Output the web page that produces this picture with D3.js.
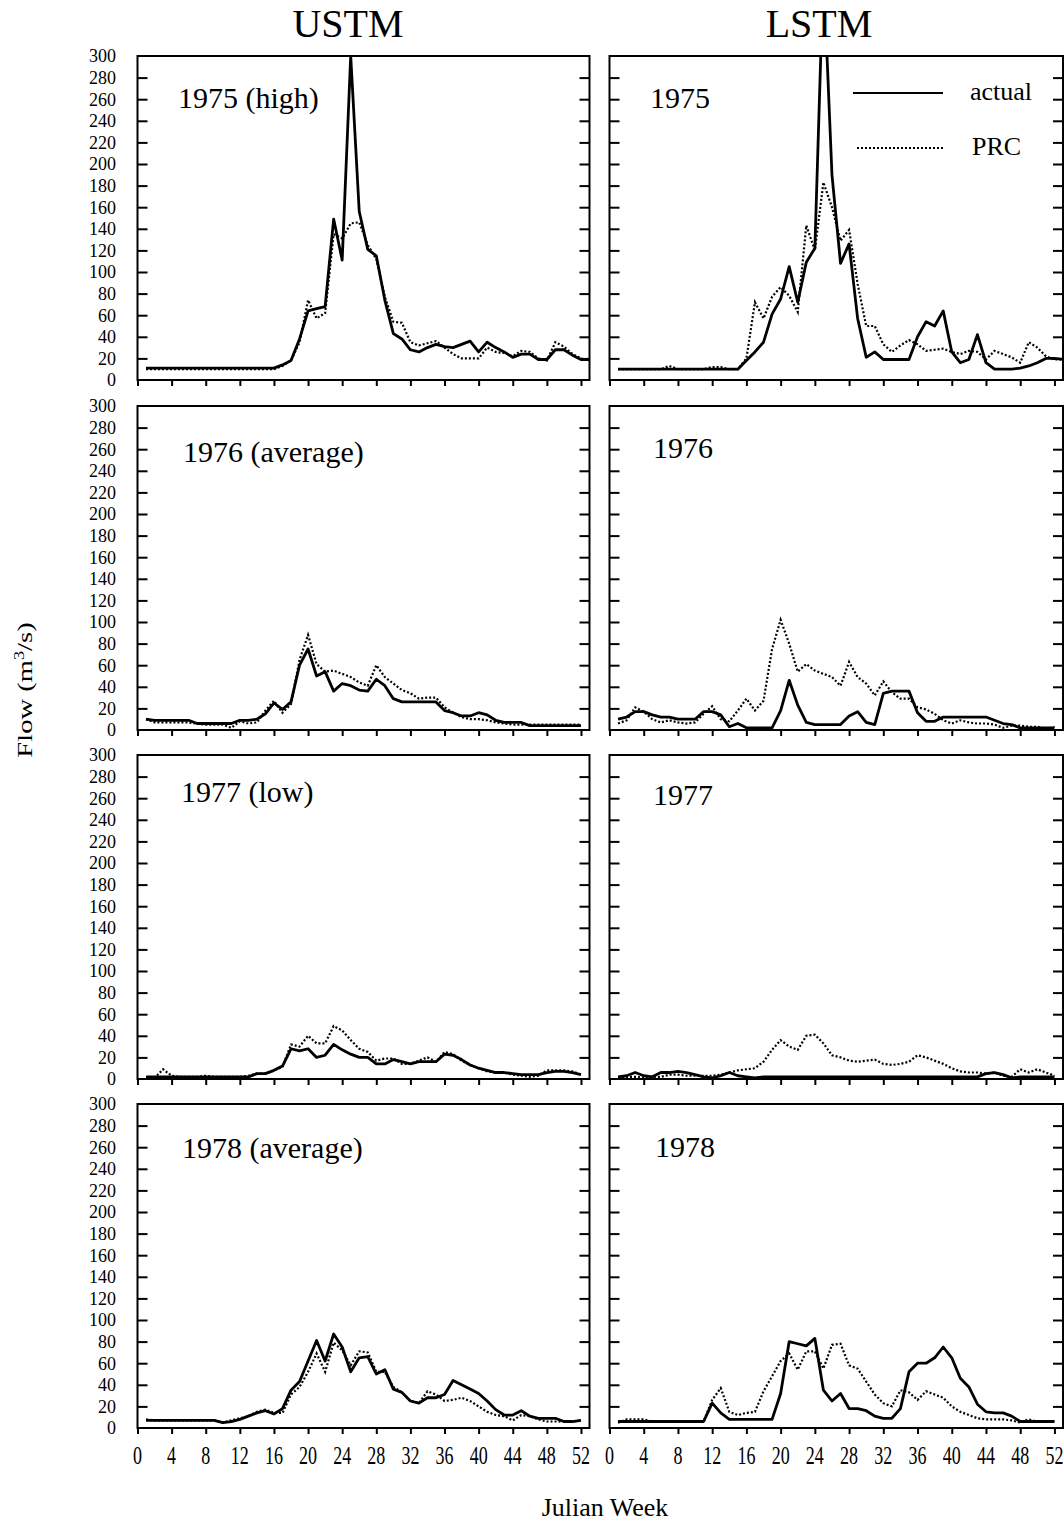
<!DOCTYPE html>
<html>
<head>
<meta charset="utf-8">
<script src="https://cdn.jsdelivr.net/npm/d3@7"></script>
<style>
  body { margin: 0; background: #fff; }
  svg text { font-family: "Liberation Serif", "Times New Roman", serif; fill: #000; }
</style>
</head>
<body>
<div id="content"></div>
<script>
// weekly flows (m3/s), index 0 = week 1
const ustmActual1975 = [11,11,11,11,11,11,11,11,11,11,11,11,11,11,11,11,14,18,38,64,66,68,149,111,300,156,121,115,74,43,38,28,26,30,33,31,30,33,36,26,35,30,26,21,24,24,19,19,28,28,23,19,19];
const ustmPrc1975 = [10,10,10,10,10,10,10,10,10,10,10,10,10,10,10,10,13,18,35,74,57,62,135,131,145,146,125,112,77,54,53,35,32,34,36,30,24,20,20,20,30,26,25,22,27,26,20,18,35,31,24,20,18];
const lstmActual1975 = [10,10,10,10,10,10,10,10,10,10,10,10,10,10,10,18,26,35,61,75,105,72,109,122,380,190,108,126,57,21,26,19,19,19,19,40,54,50,64,26,16,19,42,16,10,10,10,11,13,16,20,20,19];
const lstmPrc1975 = [10,10,10,10,10,10,13,10,10,10,10,12,12,10,10,20,72,57,77,86,78,63,143,120,183,160,129,139,89,50,50,33,26,32,37,33,27,28,29,26,24,27,26,19,27,24,21,16,35,30,22,19,19];

const ustmActual1976 = [10,9,9,9,9,9,6,6,6,6,6,9,9,10,15,25,19,26,60,75,50,54,36,43,41,37,36,47,41,29,26,26,26,26,26,18,16,13,13,16,14,9,7,7,7,4,4,4,4,4,4,4];
const ustmPrc1976 = [10,7,7,7,7,7,6,5,5,5,2,8,6,7,18,27,16,24,65,88,61,54,55,52,49,44,41,60,49,43,37,34,29,30,30,21,16,12,10,10,9,7,6,5,5,5,5,5,5,5,5,5];
const lstmActual1976 = [10,12,17,17,14,12,12,10,10,10,17,17,14,3,6,2,2,2,2,18,46,23,7,5,5,5,5,13,17,7,5,34,36,36,36,16,8,8,12,12,12,12,12,12,9,6,5,2,2,2,2,2];
const lstmPrc1976 = [6,9,21,17,10,7,9,7,6,7,15,22,10,8,18,29,18,27,75,102,80,54,61,55,52,49,41,63,49,43,32,45,35,29,29,21,19,15,9,6,9,7,6,6,5,2,4,4,3,3,1,3];

const ustmActual1977 = [2,2,2,2,2,2,2,2,2,2,2,2,2,5,5,8,12,28,26,28,20,22,32,27,23,20,20,14,14,18,16,14,16,16,16,23,22,18,13,10,8,6,6,5,4,4,4,6,7,7,6,4];
const ustmPrc1977 = [1,1,9,3,2,2,2,3,2,2,2,2,3,5,5,8,11,32,30,40,33,33,49,45,36,28,25,17,19,19,14,14,17,20,16,25,23,17,13,10,7,6,6,4,3,2,3,8,8,8,7,4];
const lstmActual1977 = [2,3,6,3,2,6,6,7,6,4,2,1,3,6,3,2,1,2,2,2,2,2,2,2,2,2,2,2,2,2,2,2,2,2,2,2,2,2,2,2,2,2,2,5,6,4,1,2,2,2,2,2];
const lstmPrc1977 = [1,2,2,1,2,2,4,4,3,3,3,3,4,6,8,9,10,16,27,36,30,27,40,41,33,22,20,17,16,17,18,14,13,14,16,22,20,17,14,10,7,6,6,5,6,3,2,9,6,9,6,3];

const ustmActual1978 = [7,7,7,7,7,7,7,7,7,5,6,8,11,14,16,13,18,35,43,62,81,62,87,75,52,65,66,50,54,36,33,25,23,28,28,31,44,40,36,32,25,17,12,12,16,11,9,9,9,6,6,7];
const ustmPrc1978 = [8,7,7,7,7,7,7,7,7,5,7,9,11,15,17,14,14,31,38,52,69,52,79,72,58,71,70,52,52,38,33,25,23,34,31,25,26,28,25,20,15,12,11,7,12,11,8,6,6,6,6,7];
const lstmActual1978 = [6,6,6,6,6,6,6,6,6,6,6,23,14,8,8,8,8,8,8,32,80,78,76,83,35,25,32,18,18,16,11,9,9,18,52,60,60,65,75,65,46,38,22,15,14,14,11,6,6,6,6,6];
const lstmPrc1978 = [5,8,8,8,6,6,6,6,6,6,6,26,37,15,12,14,15,34,48,62,69,54,71,71,55,77,78,58,55,43,31,23,20,35,33,26,34,31,28,20,15,12,9,8,8,8,7,5,8,6,6,6];

const yearLabels = ["1975 (high)", "1976 (average)", "1977 (low)", "1978 (average)"];
const yearLabelsRight = ["1975", "1976", "1977", "1978"];
const columnTitles = ["USTM", "LSTM"];
const yTicks = [0,20,40,60,80,100,120,140,160,180,200,220,240,260,280,300];
const xTicks = [0,4,8,12,16,20,24,28,32,36,40,44,48,52];
const legendNames = ["actual", "PRC"];

const actualSeries = [
  [ustmActual1975, lstmActual1975],
  [ustmActual1976, lstmActual1976],
  [ustmActual1977, lstmActual1977],
  [ustmActual1978, lstmActual1978]
];
const prcSeries = [
  [ustmPrc1975, lstmPrc1975],
  [ustmPrc1976, lstmPrc1976],
  [ustmPrc1977, lstmPrc1977],
  [ustmPrc1978, lstmPrc1978]
];

// layout
const W = 1064, H = 1523;
const colLeft = [137.5, 609.5];
const colRight = [589.5, 1063];
const rowTop = [56, 406, 755, 1104];
const panelH = 324;
const labelPos = [
  [[178,108],[650,108]],
  [[183,462],[653,458]],
  [[181,802],[653,805]],
  [[182,1158],[655,1157]]
];

const svg = d3.select("#content").append("svg")
  .attr("width", W).attr("height", H);

// column titles
svg.append("text").attr("x", 348).attr("y", 37).attr("text-anchor", "middle")
  .style("font-size", "40px").text(columnTitles[0]);
svg.append("text").attr("x", 819).attr("y", 37).attr("text-anchor", "middle")
  .style("font-size", "40px").text(columnTitles[1]);

const line = d3.line();

for (let r = 0; r < 4; r++) {
  for (let c = 0; c < 2; c++) {
    let x0 = colLeft[c], x1 = colRight[c];
    let top = rowTop[r], bottom = rowTop[r] + panelH;
    let x = d3.scaleLinear().domain([0, 53]).range([x0, x1]);
    let y = d3.scaleLinear().domain([0, 300]).range([bottom, top]);
    let g = svg.append("g");

    let clipId = "clip" + r + c;
    g.append("clipPath").attr("id", clipId)
      .append("rect").attr("x", x0).attr("y", top).attr("width", x1 - x0).attr("height", panelH);

    // x ticks (outward, bottom)
    let xa = g.append("g").attr("transform", "translate(0," + bottom + ")")
      .call(d3.axisBottom(x).tickValues(xTicks).tickSize(6).tickFormat(""));
    // y ticks inward on both sides
    let ya = g.append("g").attr("transform", "translate(" + x0 + ",0)")
      .call(d3.axisLeft(y).tickValues(yTicks.slice(1, -1)).tickSize(-10).tickFormat(""));
    let yb = g.append("g").attr("transform", "translate(" + x1 + ",0)")
      .call(d3.axisRight(y).tickValues(yTicks.slice(1, -1)).tickSize(-10).tickFormat(""));
    [xa, ya, yb].forEach(function(a) {
      a.select(".domain").remove();
      a.selectAll("line").attr("stroke", "#000").attr("stroke-width", 2);
    });

    // y tick labels only on left column
    if (c == 0) {
      g.selectAll(".ylab").data(yTicks).enter().append("text")
        .attr("x", 116).attr("y", function(d) { return y(d); })
        .attr("dy", "0.36em").attr("text-anchor", "end")
        .style("font-size", "18px").text(function(d) { return d; });
    }
    // x tick labels only on bottom row (narrow, tall digits)
    if (r == 3) {
      g.selectAll(".xlab").data(xTicks).enter().append("text")
        .attr("transform", function(d) { return "translate(" + x(d) + ",1464) scale(0.72,1)"; })
        .attr("text-anchor", "middle")
        .style("font-size", "25px").text(function(d) { return d; });
    }

    let lines = g.append("g").attr("clip-path", "url(#" + clipId + ")");
    let prc = prcSeries[r][c].map(function(v, i) { return [x(i + 1), y(v)]; });
    let act = actualSeries[r][c].map(function(v, i) { return [x(i + 1), y(v)]; });
    lines.append("path").attr("d", line(prc))
      .attr("fill", "none").attr("stroke", "#000").attr("stroke-width", 2.2)
      .attr("stroke-dasharray", "2,2");
    lines.append("path").attr("d", line(act))
      .attr("fill", "none").attr("stroke", "#000").attr("stroke-width", 2.8)
      .attr("stroke-linejoin", "round");

    // frame
    g.append("rect").attr("x", x0).attr("y", top).attr("width", x1 - x0).attr("height", panelH)
      .attr("fill", "none").attr("stroke", "#000").attr("stroke-width", 2);

    // panel label
    g.append("text").attr("x", labelPos[r][c][0]).attr("y", labelPos[r][c][1])
      .style("font-size", "30px").text(c == 0 ? yearLabels[r] : yearLabelsRight[r]);
  }
}

// legend (top right panel)
svg.append("line").attr("x1", 853).attr("x2", 943).attr("y1", 93).attr("y2", 93)
  .attr("stroke", "#000").attr("stroke-width", 2);
svg.append("line").attr("x1", 857).attr("x2", 943).attr("y1", 148).attr("y2", 148)
  .attr("stroke", "#000").attr("stroke-width", 2.2).attr("stroke-dasharray", "2,2");
svg.append("text").attr("x", 970).attr("y", 100).style("font-size", "26px").text(legendNames[0]);
svg.append("text").attr("x", 972).attr("y", 155).style("font-size", "26px").text(legendNames[1]);

// axis titles
let fl = svg.append("text").attr("transform", "translate(32,690) rotate(-90) scale(1.3,1)")
  .attr("text-anchor", "middle").style("font-size", "22px");
fl.append("tspan").text("Flow (m");
fl.append("tspan").attr("baseline-shift", "super").style("font-size", "14px").text("3");
fl.append("tspan").text("/s)");

svg.append("text").attr("x", 605).attr("y", 1516).attr("text-anchor", "middle")
  .style("font-size", "26px").text("Julian Week");
</script>
</body>
</html>
